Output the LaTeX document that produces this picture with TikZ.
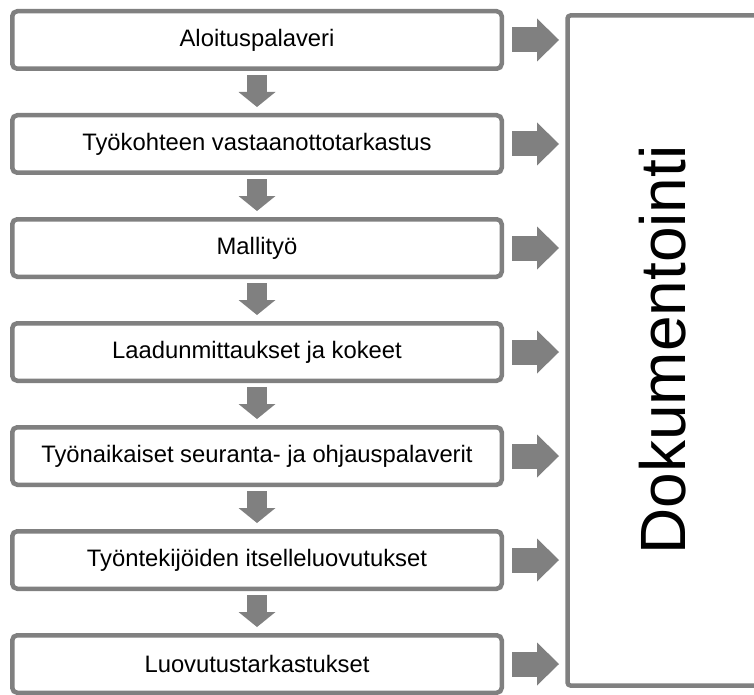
\documentclass[tikz,border=0pt]{standalone}
\usepackage{fontspec}
\setmainfont{Liberation Sans}
\usetikzlibrary{arrows.meta,positioning}

\begin{document}
\begin{tikzpicture}[x=1pt, y=-1pt,
    vaihe/.style={draw=gray, line width=4.5pt, rounded corners=5pt, minimum width=489.5pt, minimum height=57.5pt, inner sep=0pt, outer sep=0pt, font=\fontsize{23.8}{28}\selectfont},
    alas/.style={gray, line width=20pt, -{Triangle[width=37pt,length=15pt,line width=0pt]}, shorten <=6.25pt, shorten >=8.25pt},
    oikea/.style={gray, line width=25pt, -{Triangle[width=43pt,length=22pt,line width=0pt]}, shorten <=10.25pt, shorten >=8.5pt}]
    %%Rajaus
    \useasboundingbox (0,0) rectangle (754,695);
    \clip (0,0) rectangle (754,695);
    %%Vaiheet
    \node[vaihe] (b1) at (257,40) {Aloituspalaveri};
    \node[vaihe, below=46.5pt of b1] (b2) {Työkohteen vastaanottotarkastus};
    \node[vaihe, below=46.5pt of b2] (b3) {Mallityö};
    \node[vaihe, below=46.5pt of b3] (b4) {Laadunmittaukset ja kokeet};
    \node[vaihe, below=46.5pt of b4] (b5) {Työnaikaiset seuranta- ja ohjauspalaverit};
    \node[vaihe, below=46.5pt of b5] (b6) {Työntekijöiden itselleluovutukset};
    \node[vaihe, below=46.5pt of b6] (b7) {Luovutustarkastukset};
    %%Dokumentointi
    \node[draw=gray, line width=4.5pt, rounded corners=3pt, minimum width=232.5pt, minimum height=670pt, inner sep=0pt, outer sep=0pt] (dok) at (683.75,350.5) {};
    \node[rotate=90, inner sep=0pt, font=\fontsize{64}{70}\selectfont] (dokteksti) at (662.5,350) {Dokumentointi};
    %%Nuolet
    \foreach \i [count=\j from 2] in {1,...,6}
        \draw[alas] (b\i.south) -- (b\j.north);
    \foreach \i in {1,...,7}
        \draw[oikea] (b\i.east) -- (b\i.east -| dok.west);
\end{tikzpicture}
\end{document}
